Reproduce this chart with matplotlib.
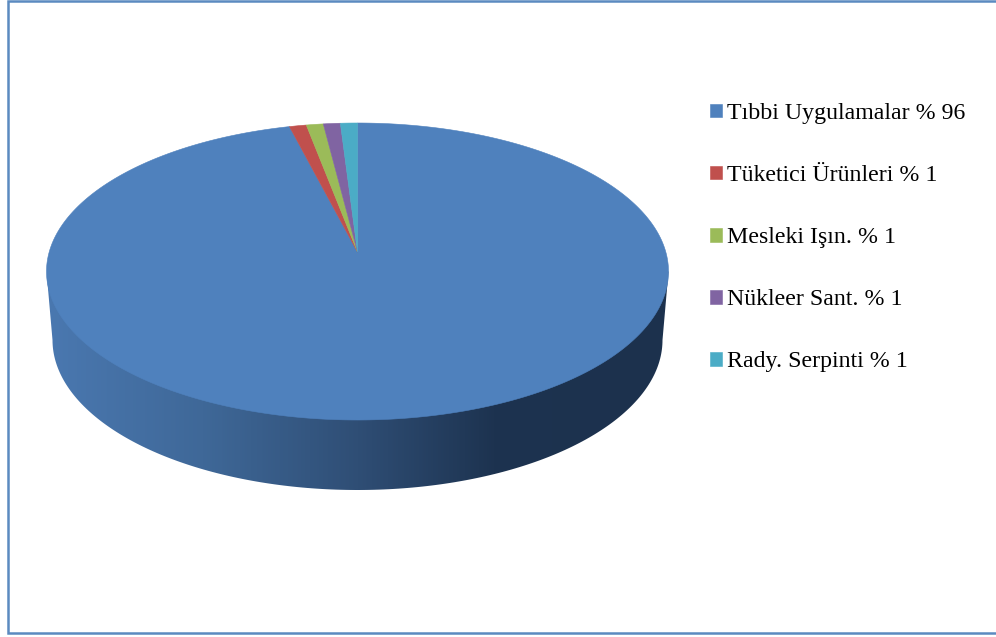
import numpy as np
import matplotlib.pyplot as plt
from matplotlib.colors import LinearSegmentedColormap
from matplotlib.patches import Polygon

labels = ['Tıbbi Uygulamalar % 96', 'Tüketici Ürünleri % 1', 'Mesleki Işın. % 1',
          'Nükleer Sant. % 1', 'Rady. Serpinti % 1']
values = [96, 1, 1, 1, 1]
colors = ['#4F81BD', '#C0504D', '#9BBB59', '#8064A2', '#4BACC6']

plt.rcParams['font.family'] = ['Liberation Serif', 'DejaVu Serif']

cx, cy, rx, ry = 357.5, 271.5, 311.0, 148.5
    # top face of the pie, in pixels
low_rx, low_cy, low_ry = 305.0, 340.0, 150.0
    # bottom rim, a bit narrower because of the perspective
k = 0.131
    # tilt, moves the projected centre of the pie up from the ellipse centre


def project(theta):
    # clockwise angle from 12 o'clock on the flat pie -> pixel on the tilted pie
    x = np.sin(theta)
    y = np.cos(theta)
    w = 1 + k * y
    return cx + rx * x * np.sqrt(1 - k * k) / w, cy - ry * (y + k) / w


fig = plt.figure(figsize=(9.96, 6.37), dpi=100)
ax = fig.add_axes([0, 0, 1, 1])
ax.set_xlim(0, 996)
ax.set_ylim(637, 0)
ax.axis('off')

# outer frame
ax.add_patch(Polygon([(8, 1), (1000, 1), (1000, 633), (8, 633)], closed=True,
                     facecolor='white', edgecolor='#5B8AC0', linewidth=1.8))

# side wall, lit from the left
t = np.linspace(0, np.pi, 200)
rim_x = cx + low_rx * np.cos(t)
rim_y = low_cy + low_ry * np.sin(t)
side = Polygon(np.c_[np.r_[cx + rx, rim_x, cx - rx], np.r_[cy, rim_y, cy]],
               closed=True, facecolor='none', edgecolor='none')
ax.add_patch(side)
shade = LinearSegmentedColormap.from_list(
    'wall', [(0, '#4A78B0'), (0.25, '#3F6898'), (0.5, '#2F4E75'), (0.72, '#1D3350'), (1, '#1C314D')])
grad = ax.imshow(np.linspace(0, 1, 400).reshape(1, -1), cmap=shade, aspect='auto',
                 extent=[cx - rx, cx + rx, 495, cy], zorder=2)
grad.set_clip_path(side)
ax.set_xlim(0, 996)
ax.set_ylim(637, 0)

# top face, one polygon per slice
apex_x, apex_y = cx, cy - ry * k
edges = np.cumsum([0] + values) / sum(values) * 2 * np.pi
handles = []
for start, end, color in zip(edges[:-1], edges[1:], colors):
    theta = np.linspace(start, end, max(int((end - start) * 120), 4))
    x, y = project(theta)
    patch, = ax.fill(np.r_[apex_x, x], np.r_[apex_y, y], facecolor=color,
                     edgecolor=color, linewidth=0.4, zorder=3)
    handles.append(patch)

leg = ax.legend(handles, labels, loc='upper left', bbox_to_anchor=(710 / 996, 1 - 103 / 637),
                frameon=False, fontsize=17.2, handlelength=0.5, handleheight=0.5,
                handletextpad=0.2, labelspacing=1.72, borderpad=0, borderaxespad=0)

fig.savefig('out.png', dpi=100)
